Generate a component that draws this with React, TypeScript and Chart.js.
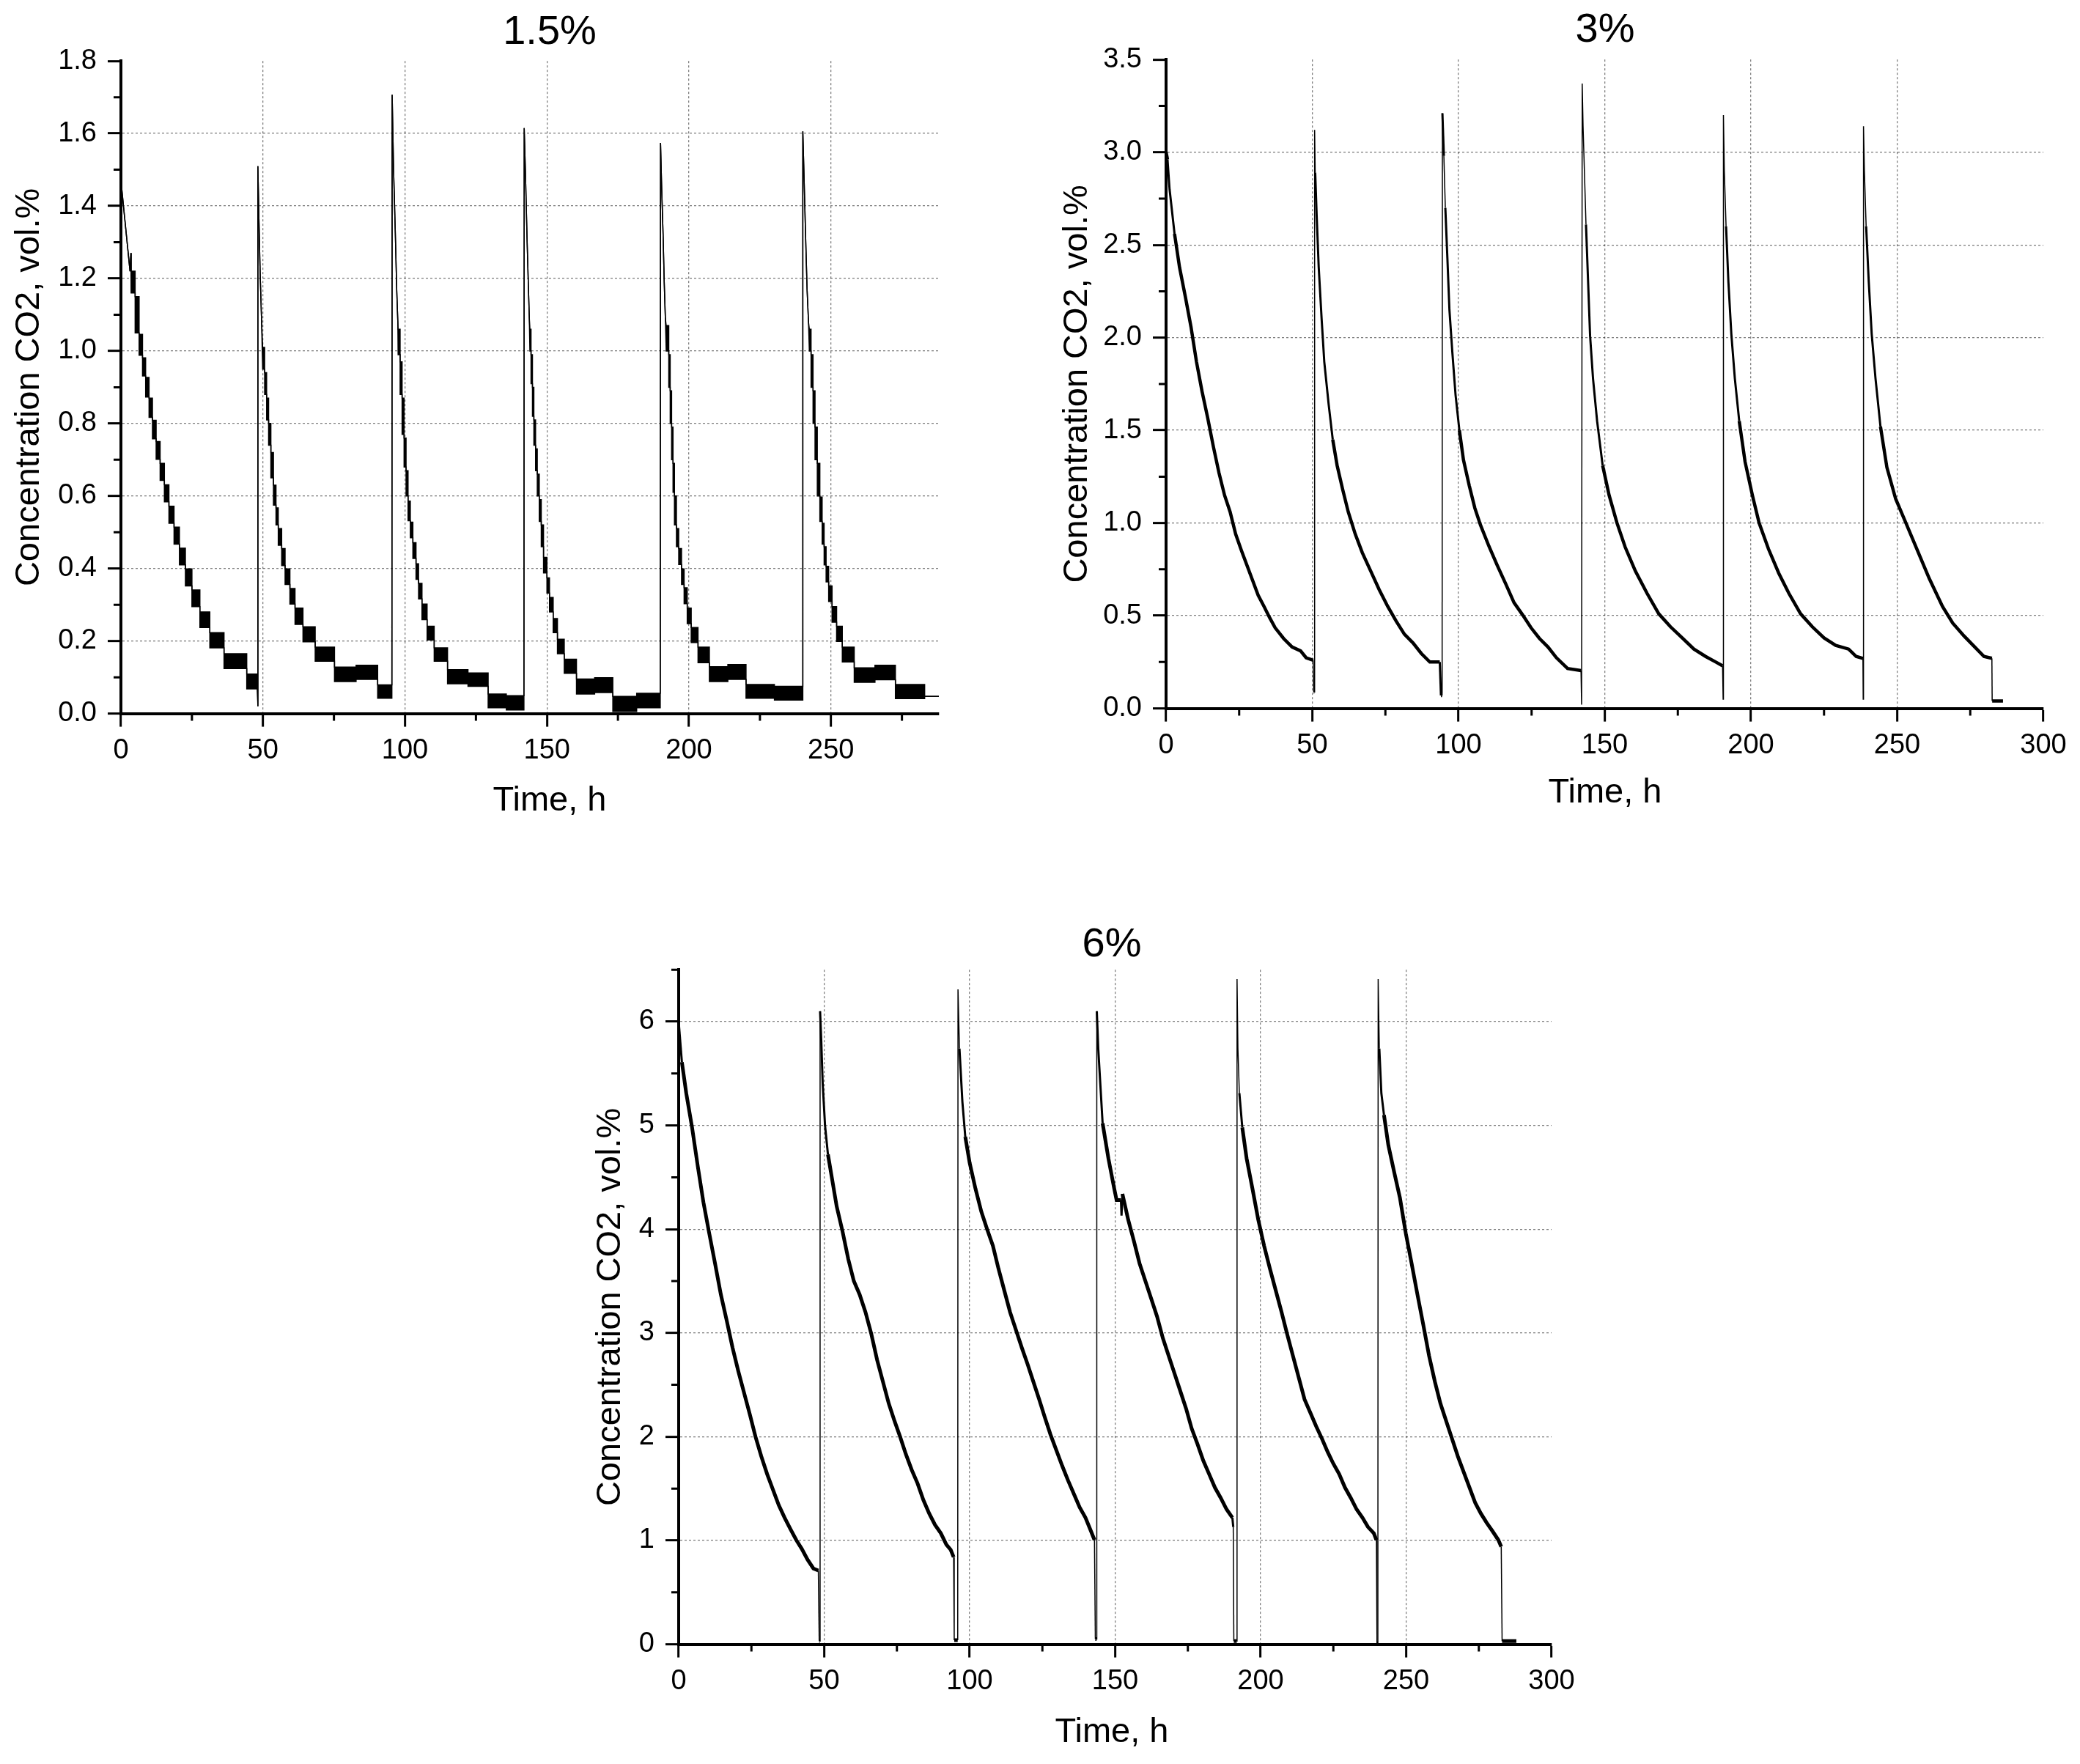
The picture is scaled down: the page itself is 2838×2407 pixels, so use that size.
import { useEffect, useRef } from "react";
import { Chart, registerables } from "chart.js";

Chart.register(...registerables);

const FONT = '"Liberation Sans", Arial, Helvetica, sans-serif';
const GRID = "rgba(0, 0, 0, 0.5)";
const Y_TITLE = "Concentration CO2, vol.%";
const X_TITLE = "Time, h";

// 1.5 % run. The analyser flickers between two readings, so each step is a band:
// from / to (h) and the low / high reading (vol.%). A step with from == to is a single point.
const start15 = [
  0, 3.2, 3.5, 3.6, 5.0, 6.4, 7.6, 8.7, 9.9, 11.1, 12.4, 13.8, 15.3, 16.9, 18.7, 20.6, 22.7, 25.0, 27.8, 31.3, 36.3, 44.3, 48.2, 48.25,
  48.6, 49.0, 49.5, 49.9, 50.6, 51.3, 52.0, 52.8, 53.7, 54.6, 55.4, 56.6, 57.8, 59.5, 61.3, 64.1, 68.4, 75.2, 82.8, 90.4, 95.5,
  96.0, 96.6, 97.1, 97.5, 97.6, 98.3, 99.0, 99.7, 100.4, 101.1, 101.9, 102.8, 103.9, 104.8, 106.0, 107.8, 110.3, 115.0, 122.2, 129.3, 135.7, 142.0,
  142.5, 143.0, 143.5, 143.8, 144.0, 144.4, 144.9, 145.4, 146.0, 146.6, 147.3, 148.0, 148.8, 150.0, 150.9, 152.2, 153.7, 156.1, 160.4, 166.8, 173.2, 181.6, 190.0,
  190.4, 190.9, 191.3, 191.7, 192.0, 192.9, 193.4, 193.9, 194.4, 194.9, 195.6, 196.4, 197.4, 198.3, 199.4, 200.8, 203.2, 207.2, 213.7, 220.1, 230.1, 240.1,
  240.6, 241.1, 241.6, 242.1, 242.4, 243.0, 243.7, 244.4, 245.2, 246.1, 246.9, 247.6, 248.3, 249.2, 250.4, 252.0, 254.0, 258.2, 265.5, 272.7, 283.0, 288,
];
const end15 = [
  0, 3.2, 3.5, 5.0, 6.4, 7.6, 8.7, 9.9, 11.1, 12.4, 13.8, 15.3, 16.9, 18.7, 20.6, 22.7, 25.0, 27.8, 31.3, 36.3, 44.3, 48.0, 48.2, 48.25,
  48.6, 49.0, 49.5, 50.6, 51.3, 52.0, 52.8, 53.7, 54.6, 55.4, 56.6, 57.8, 59.5, 61.3, 64.1, 68.4, 75.2, 82.8, 90.4, 95.4, 95.5,
  96.0, 96.6, 97.1, 97.5, 98.3, 99.0, 99.7, 100.4, 101.1, 101.9, 102.8, 103.9, 104.8, 106.0, 107.8, 110.3, 115.0, 122.2, 129.3, 135.7, 141.9, 142.0,
  142.5, 143.0, 143.5, 143.8, 144.4, 144.9, 145.4, 146.0, 146.6, 147.3, 148.0, 148.8, 150.0, 150.9, 152.2, 153.7, 156.1, 160.4, 166.8, 173.2, 181.6, 189.9, 190.0,
  190.4, 190.9, 191.3, 191.7, 192.9, 193.4, 193.9, 194.4, 194.9, 195.6, 196.4, 197.4, 198.3, 199.4, 200.8, 203.2, 207.2, 213.7, 220.1, 230.1, 240.0, 240.1,
  240.6, 241.1, 241.6, 242.1, 243.0, 243.7, 244.4, 245.2, 246.1, 246.9, 247.6, 248.3, 249.2, 250.4, 252.0, 254.0, 258.2, 265.5, 272.7, 283.0, 283.0, 288,
];
const low15 = [
  1.47, 1.22, 1.27, 1.16, 1.05, 0.988, 0.931, 0.873, 0.817, 0.758, 0.701, 0.643, 0.584, 0.525, 0.467, 0.41, 0.352, 0.295, 0.237, 0.181, 0.124, 0.068, 0.02, 1.51,
  1.36, 1.22, 1.09, 0.95, 0.88, 0.81, 0.74, 0.65, 0.575, 0.52, 0.464, 0.408, 0.356, 0.302, 0.246, 0.198, 0.144, 0.088, 0.094, 0.042, 1.707,
  1.5, 1.33, 1.17, 1.08, 0.99, 0.88, 0.77, 0.68, 0.6, 0.532, 0.485, 0.428, 0.37, 0.316, 0.259, 0.203, 0.144, 0.082, 0.075, 0.016, 0.01, 1.615,
  1.47, 1.31, 1.17, 1.09, 1.0, 0.91, 0.82, 0.74, 0.67, 0.6, 0.53, 0.46, 0.388, 0.332, 0.28, 0.223, 0.165, 0.111, 0.054, 0.058, 0.006, 0.016, 1.574,
  1.45, 1.32, 1.19, 1.09, 1.0, 0.9, 0.8, 0.7, 0.61, 0.52, 0.46, 0.411, 0.356, 0.303, 0.248, 0.196, 0.14, 0.088, 0.094, 0.042, 0.037, 1.606,
  1.46, 1.31, 1.17, 1.08, 1.0, 0.9, 0.8, 0.7, 0.6, 0.53, 0.467, 0.41, 0.363, 0.309, 0.252, 0.199, 0.142, 0.086, 0.093, 0.041, 0.047, 0.047,
];
const high15 = [
  1.47, 1.22, 1.27, 1.22, 1.15, 1.046, 0.981, 0.927, 0.87, 0.809, 0.75, 0.69, 0.631, 0.572, 0.514, 0.456, 0.399, 0.341, 0.28, 0.223, 0.165, 0.109, 0.02, 1.51,
  1.36, 1.22, 1.09, 1.01, 0.94, 0.87, 0.8, 0.72, 0.63, 0.567, 0.51, 0.455, 0.399, 0.345, 0.291, 0.239, 0.183, 0.128, 0.133, 0.079, 1.707,
  1.5, 1.33, 1.17, 1.08, 1.06, 0.97, 0.87, 0.76, 0.67, 0.586, 0.528, 0.471, 0.413, 0.359, 0.302, 0.241, 0.181, 0.121, 0.112, 0.054, 0.049, 1.615,
  1.47, 1.31, 1.17, 1.09, 1.06, 0.99, 0.9, 0.81, 0.73, 0.66, 0.59, 0.52, 0.431, 0.374, 0.32, 0.262, 0.205, 0.15, 0.095, 0.099, 0.047, 0.056, 1.574,
  1.45, 1.32, 1.19, 1.09, 1.07, 0.99, 0.89, 0.79, 0.69, 0.6, 0.51, 0.455, 0.399, 0.347, 0.291, 0.237, 0.183, 0.129, 0.135, 0.08, 0.075, 1.606,
  1.46, 1.31, 1.17, 1.08, 1.06, 0.99, 0.89, 0.79, 0.69, 0.597, 0.525, 0.46, 0.406, 0.352, 0.295, 0.241, 0.183, 0.126, 0.133, 0.08, 0.047, 0.047,
];

// 3 % run
const hours3 = [
  0, 0.5, 1.2, 2.9, 4.6, 6.6, 8.5, 10.4, 12.3, 14.2, 16.2, 18.1, 20, 21.9, 23.8, 25.8, 27.7, 29.6, 31.5, 33.5, 35.4, 37.3, 40.2, 43.1, 46, 47.9, 50.3, 50.5, 50.7,
  50.8, 51.0, 51.5, 52.2, 53.2, 54.1, 55.6, 57, 58.5, 60.4, 62.3, 64.7, 67.1, 70, 72.9, 75.8, 78.7, 81.5, 84.4, 87.3, 90.2, 93.6, 94.0, 94.4,
  94.5, 95.0, 95.5, 96.2, 96.9, 97.9, 99, 100.3, 101.7, 103.7, 105.6, 107.5, 110.4, 113.3, 116.2, 119, 121.9, 124.8, 127.7, 130.6, 133.5, 137.3, 141.9, 142.1,
  142.3, 142.6, 143.6, 145, 146, 147.4, 149.3, 151.5, 154.2, 157, 160.5, 164.5, 168.5, 172.5, 176.5, 180.5, 184.5, 188, 190.3, 190.5,
  190.6, 190.9, 191.5, 192.3, 193.3, 194.5, 196, 198, 200.5, 202.8, 206, 209.5, 213, 217, 221, 225, 229, 233.4, 236, 238.3, 238.4,
  238.5, 238.8, 239.4, 240.3, 241.3, 242.6, 244.3, 246.5, 249.5, 253, 257, 261, 265.5, 269, 272.9, 276, 279.7, 282.4, 282.5, 286.2,
];
const co2_3 = [
  3.0, 2.96, 2.8, 2.56, 2.38, 2.22, 2.06, 1.87, 1.71, 1.57, 1.41, 1.27, 1.15, 1.06, 0.94, 0.85, 0.77, 0.69, 0.61, 0.55, 0.49, 0.435, 0.377, 0.331, 0.31, 0.273, 0.26, 0.088, 0.088,
  3.12, 2.89, 2.66, 2.38, 2.1, 1.87, 1.64, 1.45, 1.31, 1.18, 1.06, 0.94, 0.84, 0.74, 0.64, 0.55, 0.47, 0.4, 0.354, 0.296, 0.25, 0.25, 0.07, 0.07,
  3.21, 2.98, 2.7, 2.43, 2.15, 1.92, 1.69, 1.5, 1.34, 1.2, 1.08, 0.99, 0.875, 0.77, 0.67, 0.57, 0.505, 0.435, 0.377, 0.331, 0.273, 0.215, 0.204, 0.02,
  3.37, 3.14, 2.61, 2.01, 1.78, 1.55, 1.31, 1.15, 1.0, 0.87, 0.74, 0.62, 0.51, 0.44, 0.38, 0.32, 0.28, 0.25, 0.23, 0.05,
  3.2, 2.9, 2.6, 2.3, 2.02, 1.78, 1.55, 1.33, 1.15, 1.0, 0.86, 0.73, 0.62, 0.51, 0.44, 0.38, 0.34, 0.32, 0.28, 0.27, 0.05,
  3.14, 2.9, 2.6, 2.3, 2.02, 1.78, 1.52, 1.3, 1.13, 1.0, 0.85, 0.7, 0.55, 0.46, 0.39, 0.34, 0.28, 0.27, 0.04, 0.04,
];

// 6 % run
const hours6 = [
  0, 1.1, 2.6, 4.6, 6.6, 8.5, 10.5, 12.5, 14.5, 16.5, 18.5, 20.5, 22.5, 24.5, 26.4, 28.4, 30.4, 32.4, 34.4, 36.4, 38.4, 40.4, 42.3, 44.3, 46.3, 48.0, 48.3, 48.5,
  48.6, 49.0, 49.5, 50.3, 51.3, 52.8, 54.3, 56.3, 58.3, 60.2, 62.2, 64.2, 66.2, 68.2, 70.2, 72.2, 74.2, 76.1, 78.1, 80.1, 82.1, 84.1, 86.1, 88.1, 90.1, 92.0, 93.5, 94.5, 94.7, 95.9,
  96.0, 96.5, 97.5, 98.5, 100, 102, 104, 106, 108, 109.9, 111.9, 113.9, 115.9, 117.9, 119.9, 121.9, 123.9, 125.8, 127.8, 129.8, 131.8, 133.8, 135.8, 137.8, 139.8, 141.7, 142.9, 143.2, 143.6,
  143.7, 144.2, 145.7, 147.7, 149.7, 150.5, 152.0, 152.2, 152.5, 154.5, 156.5, 158.4, 160.4, 162.4, 164.4, 166.4, 168.4, 170.4, 172.4, 174.4, 176.3, 178.3, 180.3, 182.3, 184.3, 186.3, 188.3, 190.3, 190.6, 190.8, 191.8,
  191.9, 192.2, 192.7, 193.7, 195.2, 197.2, 199.2, 201.2, 203.2, 205.2, 207.2, 209.1, 211.1, 213.1, 215.1, 217.1, 219.1, 221.1, 223.1, 225, 227, 229, 231, 233, 235, 236.9, 238.9, 239.8, 240.0, 240.3,
  240.4, 240.8, 241.5, 242.4, 243.9, 245.9, 247.9, 249.9, 251.9, 253.9, 255.9, 257.9, 259.9, 261.8, 263.8, 265.8, 267.8, 269.8, 271.8, 273.8, 275.7, 277.7, 279.7, 281.7, 282.7, 283.0, 287.9,
];
const co2_6 = [
  6.0, 5.61, 5.31, 4.98, 4.6, 4.26, 3.96, 3.67, 3.37, 3.12, 2.86, 2.63, 2.42, 2.21, 2.0, 1.81, 1.64, 1.49, 1.34, 1.22, 1.11, 1.005, 0.92, 0.815, 0.73, 0.71, 0.03, 0.03,
  6.1, 5.82, 5.4, 5.0, 4.72, 4.47, 4.22, 3.98, 3.71, 3.5, 3.37, 3.2, 2.99, 2.74, 2.53, 2.32, 2.15, 2.0, 1.83, 1.68, 1.55, 1.39, 1.26, 1.15, 1.07, 0.96, 0.91, 0.84, 0.04, 0.04,
  6.31, 5.74, 5.23, 4.89, 4.64, 4.39, 4.17, 4.0, 3.84, 3.62, 3.41, 3.2, 3.03, 2.86, 2.7, 2.53, 2.36, 2.19, 2.02, 1.87, 1.72, 1.58, 1.45, 1.32, 1.22, 1.09, 1.005, 0.05, 0.05,
  6.1, 5.74, 5.02, 4.68, 4.39, 4.28, 4.28, 4.13, 4.34, 4.09, 3.88, 3.67, 3.5, 3.33, 3.16, 2.95, 2.78, 2.61, 2.44, 2.27, 2.08, 1.93, 1.77, 1.64, 1.51, 1.41, 1.3, 1.22, 1.13, 0.03, 0.03,
  6.41, 5.74, 5.31, 4.98, 4.68, 4.39, 4.09, 3.84, 3.62, 3.41, 3.2, 2.99, 2.78, 2.57, 2.36, 2.23, 2.1, 1.98, 1.85, 1.74, 1.64, 1.51, 1.41, 1.3, 1.22, 1.13, 1.07, 1.005, 0.01, 0.01,
  6.41, 5.74, 5.31, 5.1, 4.81, 4.55, 4.3, 3.96, 3.67, 3.37, 3.08, 2.78, 2.53, 2.32, 2.15, 1.98, 1.81, 1.66, 1.51, 1.36, 1.26, 1.17, 1.09, 1.005, 0.94, 0.03, 0.03,
];

// short unlabeled ticks between the labelled ones
const minorTicks = {
  id: "minorTicks",
  afterDraw(chart: any, _args: any, opts: any) {
    const { ctx, scales } = chart;
    ctx.save();
    ctx.strokeStyle = "#000";
    ctx.lineWidth = 3;
    ctx.beginPath();
    for (const id of ["x", "y"]) {
      const scale = scales[id];
      const step = opts.minor[id];
      const major = opts.major[id];
      for (let k = 1; k * step <= scale.max + 1e-9; k++) {
        const v = k * step;
        if (Math.abs(v / major - Math.round(v / major)) < 1e-6) continue;
        const p = scale.getPixelForValue(v);
        if (id === "x") {
          ctx.moveTo(p, scale.top);
          ctx.lineTo(p, scale.top + 10);
        } else {
          ctx.moveTo(scale.right, p);
          ctx.lineTo(scale.right - 10, p);
        }
      }
    }
    ctx.stroke();
    ctx.restore();
  },
};

function bandDatasets() {
  const lower: { x: number; y: number }[] = [];
  const upper: { x: number; y: number }[] = [];
  start15.forEach((t0, i) => {
    lower.push({ x: t0, y: low15[i] });
    upper.push({ x: t0, y: high15[i] });
    if (end15[i] !== t0) {
      lower.push({ x: end15[i], y: low15[i] });
      upper.push({ x: end15[i], y: high15[i] });
    }
  });
  const base = { borderColor: "#000", borderWidth: 1.5, pointRadius: 0, tension: 0 };
  return [
    { ...base, data: lower, fill: false },
    { ...base, data: upper, fill: "-1", backgroundColor: "#000" },
  ];
}

function traceDataset(hours: number[], values: number[], width: number) {
  return [
    {
      data: hours.map((x, i) => ({ x, y: values[i] })),
      borderColor: "#000",
      borderWidth: width,
      pointRadius: 0,
      tension: 0,
      fill: false,
      segment: {
        // refill jumps are hairlines, the fast fall right after a refill is thin
        borderWidth: (c: any) => {
          const dx = Math.max(Math.abs(c.p1.x - c.p0.x), 1);
          const dy = Math.abs(c.p1.y - c.p0.y);
          if (dy > 30 * dx) return 1.5;
          if (dy > 8 * dx) return 3;
          return width;
        },
      },
    },
  ];
}

interface Pad {
  top: number;
  bottom: number;
}

interface PanelSpec {
  title: string;
  left: number;
  top: number;
  width: number;
  height: number;
  axisLeft: number;
  axisRight: number;
  axisBottom: number;
  titlePad: Pad;
  xTitlePad: Pad;
  yTitlePad: number;
  xMax: number;
  yMax: number;
  yStep: number;
  yMinor: number;
  yDigits: number;
  datasets: any[];
}

function buildConfig(p: PanelSpec): any {
  const gridColor = (max: number) => (c: any) =>
    c.tick && c.tick.value > 1e-9 && c.tick.value < max - 1e-9 ? GRID : "rgba(0,0,0,0)";
  const tickFont = { family: FONT, size: 38 };
  return {
    type: "line",
    data: { datasets: p.datasets },
    plugins: [minorTicks],
    options: {
      animation: false,
      responsive: false,
      events: [],
      layout: { padding: 0 },
      plugins: {
        legend: { display: false },
        tooltip: { enabled: false },
        title: {
          display: true,
          text: p.title,
          color: "#000",
          font: { family: FONT, size: 56, weight: "normal" },
          padding: p.titlePad,
        },
        subtitle: {
          display: true,
          position: "bottom",
          text: X_TITLE,
          color: "#000",
          font: { family: FONT, size: 47, weight: "normal" },
          padding: p.xTitlePad,
        },
        minorTicks: { minor: { x: 25, y: p.yMinor }, major: { x: 50, y: p.yStep } },
      },
      scales: {
        x: {
          type: "linear",
          position: "bottom",
          min: 0,
          max: p.xMax,
          ticks: {
            stepSize: 50,
            includeBounds: false,
            color: "#000",
            font: tickFont,
            padding: 10,
            maxRotation: 0,
          },
          grid: {
            color: gridColor(p.xMax),
            lineWidth: 1.3,
            tickColor: "#000",
            tickWidth: 3,
            tickLength: 18,
          },
          border: { display: true, color: "#000", width: 4, dash: [3, 3] },
          afterFit: (s: any) => {
            s.height = p.axisBottom;
          },
        },
        y: {
          type: "linear",
          position: "left",
          min: 0,
          max: p.yMax,
          ticks: {
            stepSize: p.yStep,
            includeBounds: false,
            color: "#000",
            font: tickFont,
            padding: 15,
            callback: (v: any) => Number(v).toFixed(p.yDigits),
          },
          grid: {
            color: gridColor(p.yMax),
            lineWidth: 1.3,
            tickColor: "#000",
            tickWidth: 3,
            tickLength: 18,
          },
          border: { display: true, color: "#000", width: 4, dash: [3, 3] },
          title: {
            display: true,
            text: Y_TITLE,
            color: "#000",
            font: { family: FONT, size: 47, weight: "normal" },
            padding: { top: p.yTitlePad, bottom: 0 },
          },
          afterFit: (s: any) => {
            s.width = p.axisLeft;
          },
        },
        // empty right-hand strip so the centred titles sit where the original has them
        edge: {
          type: "linear",
          position: "right",
          display: true,
          grid: { display: false, drawTicks: false },
          border: { display: false },
          ticks: { display: false },
          afterFit: (s: any) => {
            s.width = p.axisRight;
          },
        },
      },
    },
  };
}

const panels: PanelSpec[] = [
  {
    title: "1.5%",
    left: 0,
    top: 0,
    width: 1500,
    height: 1150,
    axisLeft: 165,
    axisRight: 219,
    axisBottom: 80,
    titlePad: { top: 11, bottom: 5 },
    xTitlePad: { top: 11, bottom: 29 },
    yTitlePad: 12,
    xMax: 288,
    yMax: 1.8,
    yStep: 0.2,
    yMinor: 0.1,
    yDigits: 1,
    datasets: bandDatasets(),
  },
  {
    title: "3%",
    left: 1430,
    top: 0,
    width: 1520,
    height: 1150,
    axisLeft: 161,
    axisRight: 162,
    axisBottom: 80,
    titlePad: { top: 8, bottom: 6 },
    xTitlePad: { top: 7, bottom: 40 },
    yTitlePad: 12,
    xMax: 300,
    yMax: 3.5,
    yStep: 0.5,
    yMinor: 0.25,
    yDigits: 1,
    datasets: traceDataset(hours3, co2_3, 4.5),
  },
  {
    title: "6%",
    left: 700,
    top: 1200,
    width: 1634,
    height: 1207,
    axisLeft: 226,
    axisRight: 217,
    axisBottom: 80,
    titlePad: { top: 56, bottom: 0 },
    xTitlePad: { top: 12, bottom: 15 },
    yTitlePad: 105,
    xMax: 300,
    yMax: 6.5,
    yStep: 1,
    yMinor: 0.5,
    yDigits: 0,
    datasets: traceDataset(hours6, co2_6, 5),
  },
];

function Panel({ spec }: { spec: PanelSpec }) {
  const canvasRef = useRef<HTMLCanvasElement | null>(null);

  useEffect(() => {
    if (!canvasRef.current) return;
    const chart = new Chart(canvasRef.current, buildConfig(spec));
    return () => {
      chart.destroy();
    };
  }, [spec]);

  return (
    <canvas
      ref={canvasRef}
      width={spec.width}
      height={spec.height}
      style={{
        position: "absolute",
        left: spec.left,
        top: spec.top,
        width: spec.width,
        height: spec.height,
      }}
    />
  );
}

export default function App() {
  return (
    <div
      style={{
        position: "absolute",
        left: 0,
        top: 0,
        width: 2838,
        height: 2407,
        overflow: "hidden",
        background: "#fff",
      }}
    >
      {panels.map((spec) => (
        <Panel key={spec.title} spec={spec} />
      ))}
    </div>
  );
}
